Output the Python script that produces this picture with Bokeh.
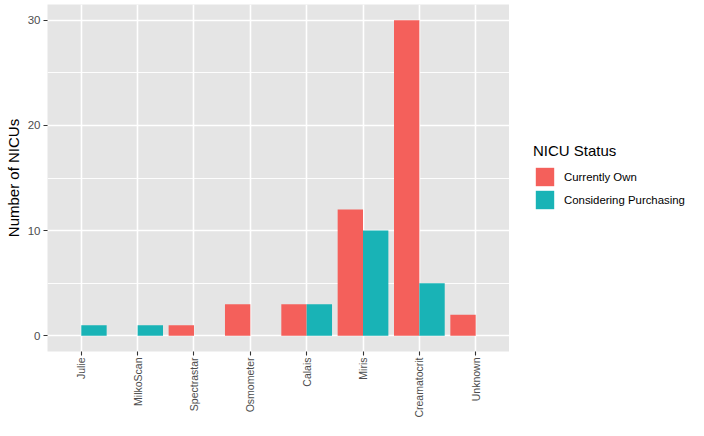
import math
from bokeh.plotting import figure
from bokeh.layouts import row
from bokeh.models import Range1d, FixedTicker, ColumnDataSource, Legend, LegendItem
from bokeh.transform import dodge
from bokeh.embed import file_html
from bokeh.resources import INLINE

devices = ["Julie", "MilkoScan", "Spectrastar", "Osmometer", "Calais", "Miris", "Creamatocrit", "Unknown"]
currently_own = [0, 0, 1, 3, 3, 12, 30, 2]
considering = [1, 1, 0, 0, 3, 10, 5, 0]
series_names = ["Currently Own", "Considering Purchasing"]
colors = ["#F4605B", "#19B3B6"]
y_ticks = [0, 10, 20, 30]

FONT = "Liberation Sans"
xpos = list(range(1, len(devices) + 1))
minor = [(a + b) / 2 for a, b in zip(y_ticks[:-1], y_ticks[1:])]

p = figure(width=509, height=420, output_backend="svg", toolbar_location=None, tools="",
           x_range=Range1d(0.4, 8.6), y_range=Range1d(-1.5, 31.5),
           min_border_left=47, min_border_top=4, min_border_bottom=67, min_border_right=0)
p.toolbar.logo = None

p.background_fill_color = "#E5E5E5"
p.border_fill_color = "white"
p.outline_line_color = None

xt = FixedTicker(ticks=xpos)
yt = FixedTicker(ticks=y_ticks, minor_ticks=minor)
p.xaxis.ticker = xt
p.xgrid.ticker = xt
p.yaxis.ticker = yt
p.ygrid.ticker = yt
p.xaxis.major_label_overrides = {x: d for x, d in zip(xpos, devices)}

for g in (p.xgrid, p.ygrid):
    g.grid_line_color = "white"
    g.grid_line_width = 1.6
p.ygrid.minor_grid_line_color = "white"
p.ygrid.minor_grid_line_width = 0.9

for ax in (p.xaxis, p.yaxis):
    ax.axis_line_color = None
    ax.major_tick_line_color = "#333333"
    ax.major_tick_line_width = 1.1
    ax.major_tick_out = 4
    ax.major_tick_in = 0
    ax.minor_tick_line_color = None
    ax.major_label_text_font = FONT
    ax.major_label_text_color = "#4D4D4D"

p.xaxis.major_label_orientation = math.pi / 2
p.xaxis.major_label_text_font_size = "10.5px"
p.xaxis.major_label_standoff = 2
p.yaxis.major_label_text_font_size = "11.5px"
p.yaxis.major_label_standoff = 3
p.yaxis.axis_label = "Number of NICUs"
p.yaxis.axis_label_text_font = FONT
p.yaxis.axis_label_text_font_size = "15px"
p.yaxis.axis_label_text_font_style = "normal"
p.yaxis.axis_label_text_color = "black"
p.yaxis.axis_label_standoff = 3

offsets = [-0.225, 0.225]
series_vals = [currently_own, considering]
for name, vals, col, off in zip(series_names, series_vals, colors, offsets):
    xs = [x for x, v in zip(xpos, vals) if v > 0]
    ys = [v for v in vals if v > 0]
    src = ColumnDataSource(dict(x=xs, top=ys))
    p.vbar(x=dodge("x", off, range=p.x_range), top="top", bottom=0, width=0.45,
           source=src, fill_color=col, line_color=None)

# legend panel (its own view ranges lie away from the data, so only the legend keys show)
lp = figure(width=179, height=420, output_backend="svg", toolbar_location=None, tools="",
            x_range=Range1d(-30, -20), y_range=Range1d(-30, -20),
            x_axis_location=None, y_axis_location=None,
            min_border_left=0, min_border_right=0, min_border_top=0, min_border_bottom=0)
lp.toolbar.logo = None
lp.grid.visible = False
lp.outline_line_color = None
lp.background_fill_color = "white"
lp.border_fill_color = "white"

items = []
for name, vals, col in zip(series_names, series_vals, colors):
    src = ColumnDataSource(dict(x=xpos, top=vals))
    r = lp.vbar(x="x", top="top", bottom=0, width=0.45, source=src,
                fill_color=col, line_color=None)
    items.append(LegendItem(label=name, renderers=[r], index=None))

legend = Legend(items=items, title="NICU Status", location=(24, 140))
legend.title_text_font = FONT
legend.title_text_font_size = "15px"
legend.title_text_font_style = "normal"
legend.title_text_color = "black"
legend.title_standoff = 6
legend.label_text_font = FONT
legend.label_text_font_size = "11.4px"
legend.label_text_color = "black"
legend.glyph_width = 23
legend.glyph_height = 23
legend.spacing = 0
legend.label_standoff = 8
legend.padding = 0
legend.margin = 0
legend.border_line_color = None
legend.background_fill_color = None
lp.add_layout(legend, "center")

layout = row(p, lp)
open("out.html", "w").write(file_html(layout, INLINE))
